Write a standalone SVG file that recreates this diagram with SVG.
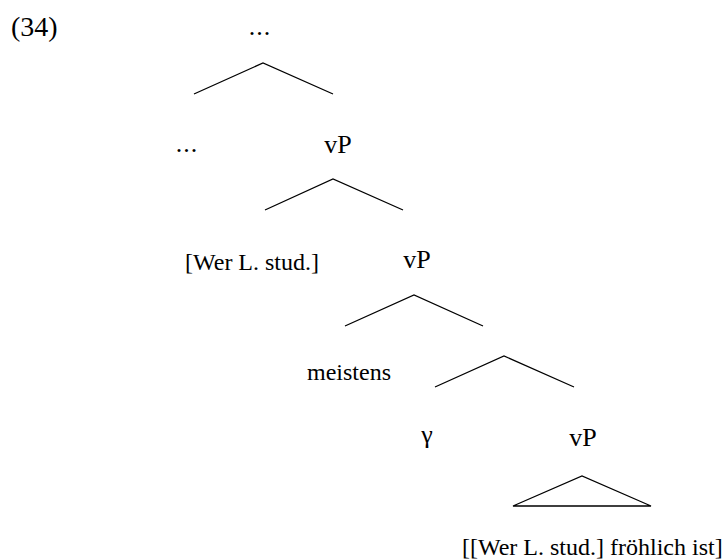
<svg xmlns="http://www.w3.org/2000/svg" width="728" height="559" viewBox="0 0 728 559">
<style>
text{font-family:"Liberation Serif","Times New Roman",serif;fill:#000}
.lab{font-size:26px}
.t{font-size:24px}
.br{fill:none;stroke:#000;stroke-width:1.3}
</style>
<rect width="728" height="559" fill="#fff"/>
<text id="ex" x="11" y="36" style="font-size:28px">(34)</text>
<g id="n-top"><text class="lab" x="260" y="35" text-anchor="middle" letter-spacing="1">...</text></g>
<g id="n-dots"><text class="lab" x="187" y="152" text-anchor="middle" letter-spacing="1">...</text></g>
<g id="n-vP1"><text class="lab" x="338" y="153" text-anchor="middle">vP</text></g>
<g id="n-wer"><text class="t" x="185" y="270">[Wer L. stud.]</text></g>
<g id="n-vP2"><text class="lab" x="417" y="268" text-anchor="middle">vP</text></g>
<g id="n-meistens"><text class="t" x="307" y="380">meistens</text></g>
<g id="n-gamma"><text class="lab" x="427" y="443" text-anchor="middle">γ</text></g>
<g id="n-vP3"><text class="lab" x="583" y="446" text-anchor="middle">vP</text></g>
<g id="n-leaf"><text class="t" x="462" y="555">[[Wer L. stud.] fröhlich ist]</text></g>
<g id="connectors">
<polyline class="br" points="194,94 263,63 333,94"/>
<polyline class="br" points="265,210 333,179 403,210"/>
<polyline class="br" points="345,326 414,295 483,326"/>
<polyline class="br" points="435,387 504,356 574,387"/>
<polygon class="br" points="513,506 582,476 651,506"/>
</g>
</svg>
